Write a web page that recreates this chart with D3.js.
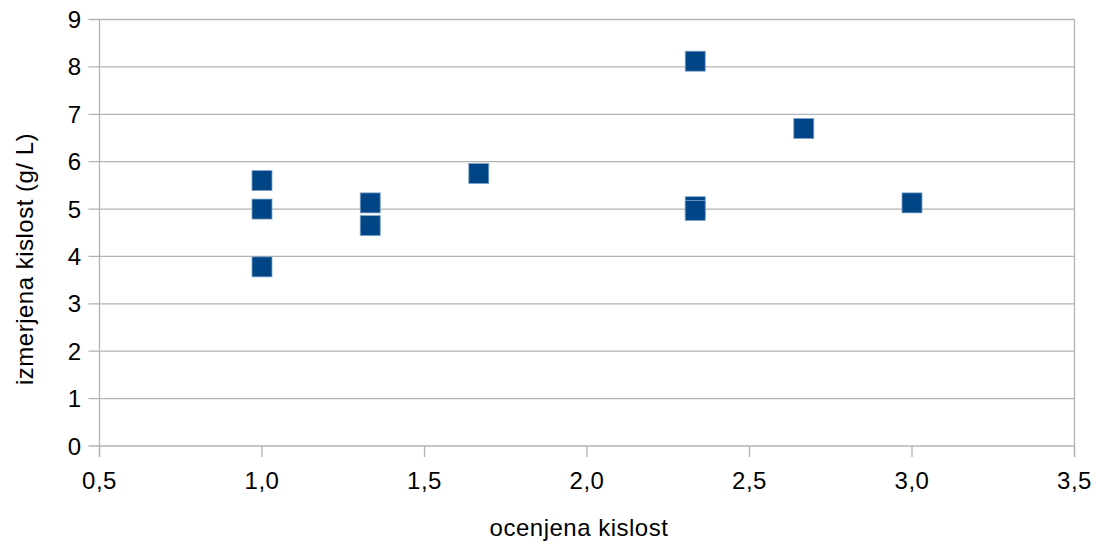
<!DOCTYPE html>
<html>
<head>
<meta charset="utf-8">
<script src="https://cdn.jsdelivr.net/npm/d3@7"></script>
<style>
    body { margin: 0; background: #fff; }
    text { font-family: "Liberation Sans", Arial, sans-serif; fill: #000; }
</style>
</head>
<body>
<div id="chart"></div>
<script>
// ocenjena kislost vs izmerjena kislost
let xValues = [1.0, 1.0, 1.0, 1.333, 1.333, 1.667, 2.333, 2.333, 2.333, 2.667, 3.0];
let yValues = [5.6, 5.0, 3.78, 5.13, 4.65, 5.75, 8.12, 5.05, 4.97, 6.7, 5.13];
let xTicks = [0.5, 1.0, 1.5, 2.0, 2.5, 3.0, 3.5];
let yTicks = [0, 1, 2, 3, 4, 5, 6, 7, 8, 9];
let xTitle = "ocenjena kislost";
let yTitle = "izmerjena kislost (g/ L)";

let width = 1099, height = 550;
let margin = {top: 19.5, right: 24.5, bottom: 104, left: 99.5};

let svg = d3.select("#chart").append("svg")
    .attr("width", width)
    .attr("height", height);

let x = d3.scaleLinear().domain([0.5, 3.5]).range([margin.left, width - margin.right]);
let y = d3.scaleLinear().domain([0, 9]).range([height - margin.bottom, margin.top]);

let fmt = d => d3.format(".1f")(d).replace(".", ",");

// horizontal gridlines
svg.append("g")
    .selectAll("line")
    .data(yTicks)
    .enter()
    .append("line")
    .attr("x1", x(0.5) - 11)
    .attr("x2", x(3.5))
    .attr("y1", d => y(d))
    .attr("y2", d => y(d))
    .attr("stroke", "#b3b3b3")
    .attr("stroke-width", 1.3);

// left axis line and right border
svg.append("line")
    .attr("x1", x(0.5)).attr("x2", x(0.5))
    .attr("y1", y(9)).attr("y2", y(0) + 11)
    .attr("stroke", "#b3b3b3").attr("stroke-width", 1.3);
svg.append("line")
    .attr("x1", x(3.5)).attr("x2", x(3.5))
    .attr("y1", y(9)).attr("y2", y(0) + 11)
    .attr("stroke", "#b3b3b3").attr("stroke-width", 1.3);

// x ticks
svg.append("g")
    .selectAll("line")
    .data(xTicks)
    .enter()
    .append("line")
    .attr("x1", d => x(d)).attr("x2", d => x(d))
    .attr("y1", y(0)).attr("y2", y(0) + 11)
    .attr("stroke", "#b3b3b3").attr("stroke-width", 1.3);

svg.append("g")
    .selectAll("text")
    .data(xTicks)
    .enter()
    .append("text")
    .attr("x", d => x(d))
    .attr("y", 489)
    .attr("text-anchor", "middle")
    .style("font-size", "24px")
    .style("letter-spacing", "0.5px")
    .text(d => fmt(d));

svg.append("g")
    .selectAll("text")
    .data(yTicks)
    .enter()
    .append("text")
    .attr("x", 81)
    .attr("y", d => y(d) + 8.5)
    .attr("text-anchor", "end")
    .style("font-size", "24px")
    .text(d => d);

// axis titles
svg.append("text")
    .attr("x", 579)
    .attr("y", 536)
    .attr("text-anchor", "middle")
    .style("font-size", "24px")
    .style("letter-spacing", "0.5px")
    .text(xTitle);

svg.append("text")
    .attr("transform", `translate(33, 259) rotate(-90)`)
    .attr("text-anchor", "middle")
    .style("font-size", "24px")
    .style("letter-spacing", "0.5px")
    .text(yTitle);

// points
let pts = xValues.map((d, i) => ({x: d, y: yValues[i]}));
svg.append("g")
    .selectAll("rect")
    .data(pts)
    .enter()
    .append("rect")
    .attr("x", d => x(d.x) - 10)
    .attr("y", d => y(d.y) - 10)
    .attr("width", 20)
    .attr("height", 20)
    .attr("fill", "#004586")
    .attr("stroke", "#7ea3c8")
    .attr("stroke-width", 0.8);
</script>
</body>
</html>
